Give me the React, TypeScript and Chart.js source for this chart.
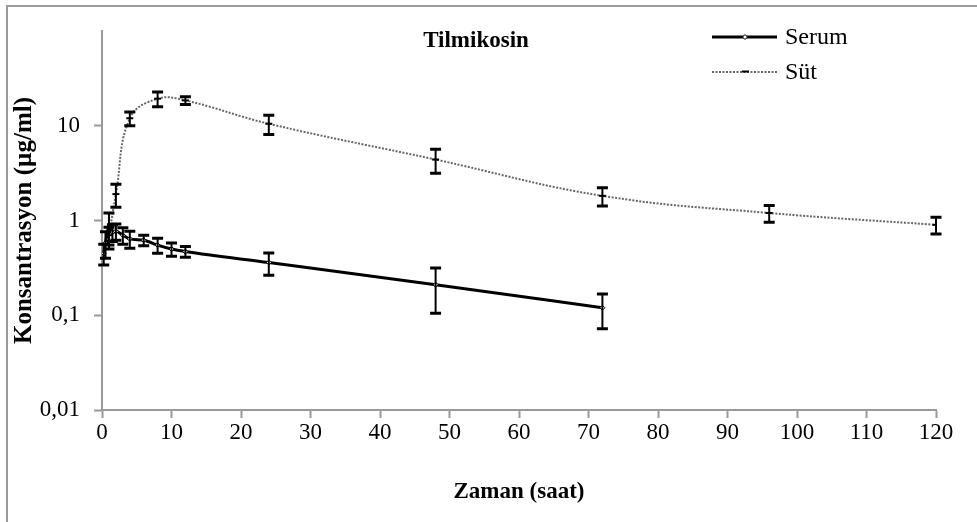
import React, { useEffect, useRef } from "react";
import { Chart, registerables } from "chart.js";
Chart.register(...registerables);

// ---- data ----
const serumTimes = [0.25, 0.5, 1, 1.5, 2, 3, 4, 6, 8, 10, 12, 24, 48, 72];
const serumValues = [0.45, 0.58, 0.85, 0.75, 0.77, 0.7, 0.64, 0.62, 0.55, 0.5, 0.47, 0.36, 0.21, 0.12];
const serumErrors = [0.11, 0.18, 0.35, 0.15, 0.15, 0.14, 0.13, 0.08, 0.1, 0.08, 0.06, 0.095, 0.105, 0.048];

const sutTimes = [1, 2, 4, 8, 12, 24, 48, 72, 96, 120];
const sutValues = [0.7, 1.9, 12, 19.3, 18.5, 10.5, 4.4, 1.82, 1.2, 0.9];
const sutErrors = [0.15, 0.52, 2.0, 3.4, 1.7, 2.4, 1.25, 0.4, 0.24, 0.18];

const xTickValues = [0, 10, 20, 30, 40, 50, 60, 70, 80, 90, 100, 110, 120];
const yTickValues = [0.01, 0.1, 1, 10];
const yTickLabels = ["0,01", "0,1", "1", "10"];

const chartTitle = "Tilmikosin";
const xTitle = "Zaman (saat)";
const yTitle = "Konsantrasyon (µg/ml)";
const seriesNames = ["Serum", "Süt"];

const FONT = "'Liberation Serif', 'Times New Roman', serif";

const errorBarPlugin = {
  id: "errorBars",
  afterDatasetsDraw(chart: any) {
    const ctx = chart.ctx;
    const xs = chart.scales.x;
    const ys = chart.scales.y;
    ctx.save();
    ctx.strokeStyle = "#000";
    chart.data.datasets.forEach((ds: any) => {
      ds.data.forEach((p: any, i: number) => {
        const e = ds.errors[i];
        const x = xs.getPixelForValue(p.x);
        const yTop = ys.getPixelForValue(p.y + e);
        const yBot = ys.getPixelForValue(Math.max(p.y - e, 0.011));
        ctx.lineWidth = 2;
        ctx.beginPath();
        ctx.moveTo(x, yTop);
        ctx.lineTo(x, yBot);
        ctx.stroke();
        ctx.lineWidth = 3;
        ctx.beginPath();
        ctx.moveTo(x - 5.5, yTop);
        ctx.lineTo(x + 5.5, yTop);
        ctx.moveTo(x - 5.5, yBot);
        ctx.lineTo(x + 5.5, yBot);
        ctx.stroke();
      });
    });
    ctx.restore();
  },
};

const overlayPlugin = {
  id: "overlay",
  afterDraw(chart: any) {
    const ctx = chart.ctx;
    ctx.save();
    // title
    ctx.fillStyle = "#000";
    ctx.font = `bold 23px ${FONT}`;
    ctx.textAlign = "center";
    ctx.textBaseline = "middle";
    ctx.fillText(chartTitle, 476, 41);
    // legend - Serum
    ctx.strokeStyle = "#000";
    ctx.lineWidth = 3;
    ctx.setLineDash([]);
    ctx.beginPath();
    ctx.moveTo(712, 37);
    ctx.lineTo(777, 37);
    ctx.stroke();
    ctx.fillStyle = "#fff";
    ctx.lineWidth = 1;
    ctx.beginPath();
    ctx.moveTo(745, 34.5);
    ctx.lineTo(747.5, 37);
    ctx.lineTo(745, 39.5);
    ctx.lineTo(742.5, 37);
    ctx.closePath();
    ctx.fill();
    ctx.stroke();
    // legend - Süt
    ctx.strokeStyle = "#666";
    ctx.lineWidth = 2;
    ctx.setLineDash([2, 1.5]);
    ctx.beginPath();
    ctx.moveTo(712, 72);
    ctx.lineTo(777, 72);
    ctx.stroke();
    ctx.setLineDash([]);
    ctx.strokeStyle = "#000";
    ctx.beginPath();
    ctx.moveTo(742, 71.5);
    ctx.lineTo(749, 71.5);
    ctx.stroke();
    // legend texts
    ctx.fillStyle = "#000";
    ctx.font = `24px ${FONT}`;
    ctx.textAlign = "left";
    ctx.textBaseline = "middle";
    ctx.fillText(seriesNames[0], 785, 38);
    ctx.fillText(seriesNames[1], 785, 73);
    ctx.restore();
  },
};

export default function App() {
  const ref = useRef<HTMLCanvasElement | null>(null);
  useEffect(() => {
    if (!ref.current) return;
    const chart = new Chart(ref.current, {
      type: "line",
      data: {
        datasets: [
          {
            label: seriesNames[0],
            data: serumTimes.map((t, i) => ({ x: t, y: serumValues[i] })),
            errors: serumErrors,
            borderColor: "#000",
            borderWidth: 3,
            tension: 0.3,
            cubicInterpolationMode: "monotone",
            pointStyle: "rectRot",
            pointRadius: 2.5,
            pointBorderWidth: 1,
            pointBorderColor: "#000",
            pointBackgroundColor: "#fff",
          } as any,
          {
            label: seriesNames[1],
            data: sutTimes.map((t, i) => ({ x: t, y: sutValues[i] })),
            errors: sutErrors,
            borderColor: "#666",
            borderWidth: 2,
            borderDash: [2, 1.5],
            tension: 0.4,
            pointStyle: "line",
            pointRadius: 3.5,
            pointBorderWidth: 2,
            pointBorderColor: "#000",
          } as any,
        ],
      },
      options: {
        animation: false,
        responsive: false,
        layout: { padding: { left: 0, right: 41, top: 31, bottom: 0 } },
        plugins: {
          legend: { display: false },
          title: { display: false },
          tooltip: { enabled: false },
        },
        scales: {
          x: {
            type: "linear",
            min: 0,
            max: 120,
            afterBuildTicks: (s: any) => {
              s.ticks = xTickValues.map((v) => ({ value: v }));
            },
            afterFit: (s: any) => {
              s.height = 112;
            },
            ticks: {
              font: { family: FONT, size: 23 },
              color: "#000",
              padding: 1,
              maxRotation: 0,
              autoSkip: false,
            },
            grid: {
              drawOnChartArea: false,
              drawTicks: true,
              tickLength: 8,
              tickColor: "#999",
              tickWidth: 2,
            },
            border: { color: "#999", width: 2 },
            title: {
              display: true,
              text: xTitle,
              font: { family: FONT, size: 23, weight: "bold" },
              color: "#000",
              padding: { top: 0, bottom: 16 },
            },
          },
          y: {
            type: "logarithmic",
            min: 0.01,
            max: 100,
            afterBuildTicks: (s: any) => {
              s.ticks = yTickValues.map((v) => ({ value: v }));
            },
            afterFit: (s: any) => {
              s.width = 102;
            },
            ticks: {
              font: { family: FONT, size: 23 },
              color: "#000",
              padding: 14,
              callback: (v: any) => {
                const i = yTickValues.indexOf(Number(v));
                return i >= 0 ? yTickLabels[i] : "";
              },
            },
            grid: {
              drawOnChartArea: false,
              drawTicks: true,
              tickLength: 8,
              tickColor: "#999",
              tickWidth: 2,
            },
            border: { color: "#999", width: 2 },
            title: {
              display: true,
              text: yTitle,
              font: { family: FONT, size: 25, weight: "bold" },
              color: "#000",
              padding: { top: 10, bottom: 0 },
            },
          },
        },
      } as any,
      plugins: [errorBarPlugin, overlayPlugin],
    });
    return () => chart.destroy();
  }, []);
  return (
    <div style={{ position: "absolute", left: 0, top: 0, width: 977, height: 522, background: "#fff" }}>
      <canvas ref={ref} width={977} height={522} style={{ display: "block" }} />
      <div
        style={{
          position: "absolute",
          left: 6,
          top: 5,
          right: 0,
          bottom: 0,
          borderLeft: "2px solid #9a9a9a",
          borderTop: "2px solid #9a9a9a",
          pointerEvents: "none",
        }}
      />
    </div>
  );
}
